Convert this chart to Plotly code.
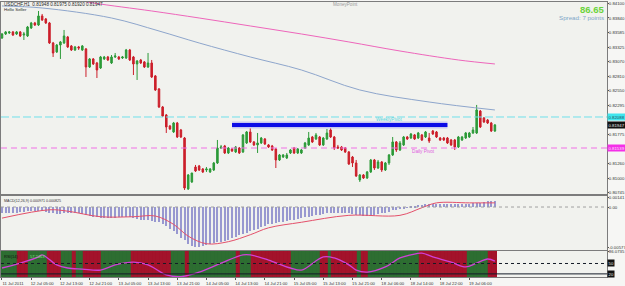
import plotly.graph_objects as go
from plotly.subplots import make_subplots

# ---------------- data (prices in points, 1 point = 0.00001) ----------------
open_pts = [83486, 83557, 83575, 83593, 83557, 83593, 83539, 83522, 83663, 83752,
            83716, 83876, 83823, 83752, 83398, 83239, 83362, 83398, 83504, 83345,
            83274, 83327, 83274, 83292, 82973, 83115, 83044, 82955, 83115, 83150,
            83044, 83150, 83150, 83132, 83132, 83274, 83150, 83026, 83097, 83062,
            82973, 83044, 82814, 82584, 82265, 82124, 81929, 81823, 81982, 81858,
            81716, 80814, 80938, 81203, 81221, 81168, 81150, 81115, 81150, 81274,
            81539, 81575, 81451, 81522, 81469, 81539, 81469, 81628, 81823, 81646,
            81593, 81628, 81699, 81593, 81575, 81522, 81327, 81380, 81362, 81451,
            81539, 81451, 81451, 81539, 81593, 81734, 81699, 81734, 81593, 81699,
            81858, 81734, 81557, 81557, 81539, 81469, 81380, 81274, 80973, 81062,
            81008, 81115, 81327, 81185, 81292, 81150, 81274, 81416, 81646, 81504,
            81593, 81734, 81716, 81770, 81716, 81770, 81734, 81716, 81840, 81823,
            81716, 81716, 81716, 81681, 81681, 81557, 81681, 81716, 81734, 81805,
            81805, 82194, 82070, 82035, 81982, 81840]
high_pts = [83575, 83610, 83610, 83610, 83610, 83610, 83593, 83699, 83770, 83770,
            83964, 83911, 83840, 83770, 83416, 83380, 83433, 83628, 83522, 83362,
            83345, 83345, 83362, 83309, 83132, 83132, 83062, 83168, 83168, 83168,
            83185, 83221, 83168, 83168, 83292, 83292, 83168, 83097, 83115, 83079,
            83221, 83097, 82831, 82601, 82283, 82141, 81947, 82000, 82000, 81876,
            81734, 81079, 81097, 81239, 81239, 81185, 81203, 81185, 81292, 81681,
            81593, 81593, 81557, 81539, 81575, 81557, 81787, 81840, 81982, 81663,
            81805, 81734, 81716, 81610, 81593, 81539, 81433, 81433, 81451, 81522,
            81557, 81539, 81522, 81646, 81823, 81752, 81805, 81752, 81734, 81876,
            81982, 81752, 81593, 81575, 81557, 81486, 81398, 81327, 81079, 81079,
            81132, 81345, 81345, 81327, 81309, 81292, 81433, 81734, 81663, 81663,
            81752, 81752, 81805, 81787, 81823, 81787, 81840, 81805, 81858, 81840,
            81734, 81734, 81734, 81699, 81699, 81752, 81752, 81823, 81823, 81911,
            82301, 82212, 82088, 82053, 82000, 81964]
low_pts = [83469, 83539, 83557, 83522, 83539, 83504, 83451, 83504, 83646, 83699,
           83699, 83787, 83734, 83380, 83150, 83221, 83115, 83380, 83309, 83256,
           83256, 83274, 83256, 82796, 82955, 83008, 82778, 82938, 83097, 83079,
           83026, 83132, 83097, 83115, 83115, 83079, 82831, 82743, 83026, 82955,
           82955, 82778, 82548, 82247, 82088, 81805, 81858, 81805, 81716, 81716,
           80796, 80796, 80920, 81115, 81132, 81097, 81115, 81097, 81132, 81256,
           81522, 81433, 81433, 81469, 81451, 81433, 81451, 81610, 81628, 81575,
           81451, 81610, 81593, 81539, 81486, 81185, 81309, 81362, 81345, 81433,
           81433, 81433, 81433, 81522, 81575, 81628, 81681, 81575, 81575, 81681,
           81716, 81504, 81522, 81486, 81451, 81239, 81203, 81026, 80938, 80991,
           80991, 81097, 81150, 81168, 81115, 81132, 81239, 81398, 81469, 81486,
           81575, 81681, 81699, 81681, 81699, 81663, 81716, 81628, 81770, 81716,
           81663, 81663, 81610, 81575, 81504, 81539, 81663, 81699, 81716, 81787,
           81787, 81893, 81982, 81964, 81823, 81823]
close_pts = [83557, 83593, 83593, 83539, 83593, 83522, 83557, 83681, 83752, 83716,
             83876, 83805, 83752, 83398, 83221, 83362, 83416, 83522, 83327, 83274,
             83327, 83309, 83345, 82973, 83115, 83026, 82920, 83150, 83150, 83097,
             83150, 83168, 83115, 83150, 83274, 83097, 83026, 83079, 83044, 82973,
             83044, 82796, 82566, 82265, 82106, 81911, 81876, 81982, 81734, 81734,
             80831, 81062, 81097, 81132, 81150, 81115, 81168, 81168, 81274, 81539,
             81557, 81451, 81539, 81486, 81557, 81451, 81770, 81823, 81646, 81593,
             81628, 81716, 81610, 81557, 81504, 81327, 81416, 81416, 81416, 81504,
             81451, 81522, 81504, 81628, 81716, 81646, 81770, 81593, 81716, 81805,
             81734, 81539, 81539, 81504, 81469, 81256, 81274, 81044, 81062, 81008,
             81115, 81327, 81185, 81292, 81150, 81274, 81416, 81646, 81504, 81628,
             81734, 81699, 81787, 81699, 81805, 81681, 81823, 81663, 81787, 81734,
             81681, 81681, 81628, 81593, 81557, 81734, 81734, 81805, 81805, 81858,
             82212, 81911, 82000, 81982, 81840, 81947]

# moving averages read at a few bars (points)
ma_slow_idx = [16, 25, 41, 54, 68, 82, 95, 109, 125, 135]
ma_slow_pts = [84212, 84106, 83964, 83840, 83699, 83557, 83416, 83256, 83097, 83026]
ma_mid_idx = [0, 11, 30, 43, 54, 68, 82, 98, 117, 135]
ma_mid_pts = [84053, 84017, 83840, 83610, 83398, 83150, 82920, 82566, 82353, 82212]

weekly_pivot_pts = 82088
daily_pivot_pts = 81539
resistance_pts = 81946
resistance_start, resistance_end = 63, 122

price_tick_pts = [84100, 83840, 83585, 83325, 83070, 82810, 82550, 82295,
                  81775, 81260, 81000, 80745]

# MACD histogram (units of 0.0001)
macd_hist = [-9, -9, -9, -8, -8, -7, -7, -6, -6, -6, -6, -6, -7,
             -8, -9, -10, -10, -9, -9, -9, -9, -9, -10,
             -12, -13, -14, -15, -16, -16, -16,
             -16, -16, -15, -15, -15, -15, -16, -17, -18, -19, -19, -20,
             -21, -22, -24, -28, -32, -35, -39, -44, -48, -53, -56, -57, -57, -56, -55, -53,
             -52, -51, -50, -49, -47, -45, -43, -41, -39, -37, -35, -33, -31, -29, -27, -25,
             -24, -23, -22, -21, -20, -19, -18, -17, -16, -15,
             -14, -13, -12, -11, -10, -9, -8, -8, -8, -8, -9, -9, -10, -11, -12, -13, -13,
             -12, -11, -10, -9, -8, -7, -5, -4, -3, -2,
             -1, 1, 2, 3, 3, 4, 4, 5, 5, 5, 5, 5, 5, 5, 5, 5, 5, 5, 6, 6, 6, 7, 8, 8, 8]
signal_idx = [0, 13, 18, 27, 36, 42, 47, 51, 56, 62, 68, 73, 82, 95, 109, 115, 119, 128, 135]
signal_val = [-16, -4, -6, -14, -14, -13, -25, -42, -53, -50, -40, -30, -22, -12, -12, -1, 6, 6, 6]
macd_ticks = [0.00141, 0.0, -0.00577]
macd_tick_text = ["0.00141", "0.00", "-0.00577"]

# oscillator panel
osc_idx = [0, 5, 10, 11, 15, 18, 22, 27, 31, 36, 40, 45, 49, 54, 60, 66, 68, 73, 79,
           82, 88, 91, 95, 97, 100, 105, 109, 112, 115, 118, 123, 127, 130, 133, 135]
osc_val = [37, 51, 69, 75, 46, 37, 34, 31, 46, 54, 46, 17, 12, 25, 51, 75, 75, 60, 37,
           31, 69, 66, 46, 31, 25, 40, 66, 75, 80, 69, 54, 40, 51, 63, 57]
band_run_states = ['G', 'R'] * 13
band_run_lengths = [5, 3, 5, 4, 3, 1, 2, 5, 8, 11, 4, 1, 13, 1, 3, 11, 8, 2, 1, 7, 1, 2, 14, 13, 6, 2]
osc_levels = [50, 20]
osc_top_value = 86.0735

time_tick_idx = list(range(0, 129, 8))
time_tick_text = ["11 Jul 2011", "12 Jul 05:00", "12 Jul 13:00", "12 Jul 21:00",
                  "13 Jul 05:00", "13 Jul 13:00", "13 Jul 21:00", "14 Jul 05:00",
                  "14 Jul 13:00", "14 Jul 21:00", "15 Jul 05:00", "15 Jul 13:00",
                  "15 Jul 21:00", "18 Jul 06:00", "18 Jul 14:00", "18 Jul 22:00",
                  "19 Jul 06:00"]

# ---------------- build ----------------
PT = 1e-5
P = lambda seq: [v * PT for v in seq]
n = len(close_pts)
idx = list(range(n))

GREEN = '#2c9a38'
RED = '#cc1f2a'
FONT = 'Liberation Sans'

fig = make_subplots(rows=3, cols=1, shared_xaxes=True, vertical_spacing=0.01)

fig.add_trace(go.Candlestick(
    x=idx, open=P(open_pts), high=P(high_pts), low=P(low_pts), close=P(close_pts),
    increasing=dict(line=dict(color=GREEN, width=1), fillcolor=GREEN),
    decreasing=dict(line=dict(color=RED, width=1), fillcolor=RED),
    whiskerwidth=0, hoverinfo='skip', showlegend=False), row=1, col=1)

fig.add_trace(go.Scatter(x=ma_slow_idx, y=P(ma_slow_pts), mode='lines',
                         line=dict(color='#ee66bb', width=1, shape='spline'),
                         hoverinfo='skip'), row=1, col=1)
fig.add_trace(go.Scatter(x=ma_mid_idx, y=P(ma_mid_pts), mode='lines',
                         line=dict(color='#8ea6cc', width=1, shape='spline'),
                         hoverinfo='skip'), row=1, col=1)

# resistance bar
fig.add_trace(go.Scatter(x=[resistance_start, resistance_end],
                         y=[resistance_pts * PT] * 2, mode='lines',
                         line=dict(color='#c8c8f0', width=7), hoverinfo='skip'), row=1, col=1)
fig.add_trace(go.Scatter(x=[resistance_start, resistance_end],
                         y=[resistance_pts * PT] * 2, mode='lines',
                         line=dict(color='#0c0ce6', width=4), hoverinfo='skip'), row=1, col=1)

fig.add_hline(y=weekly_pivot_pts * PT, line=dict(color='#6fe0ea', width=1, dash='8px,3px'), row=1, col=1)
fig.add_hline(y=daily_pivot_pts * PT, line=dict(color='#f070e6', width=1, dash='6px,4px'), row=1, col=1)

# MACD
fig.add_trace(go.Bar(x=idx, y=[v * 1e-4 for v in macd_hist], width=0.3,
                     marker=dict(color='#9898d0', line=dict(width=0)),
                     hoverinfo='skip'), row=2, col=1)
fig.add_trace(go.Scatter(x=signal_idx, y=[v * 1e-4 for v in signal_val], mode='lines',
                         line=dict(color='#e4506a', width=1, shape='spline'),
                         hoverinfo='skip'), row=2, col=1)
fig.add_hline(y=0, line=dict(color='#a0a0a0', width=1, dash='dot'), row=2, col=1)

# oscillator bands
band_colors = []
for st, ln in zip(band_run_states, band_run_lengths):
    band_colors += [('#2d6e31' if st == 'G' else '#a3132b')] * ln
fig.add_trace(go.Bar(x=idx, y=[100] * n, base=0, width=1.0,
                     marker=dict(color=band_colors, line=dict(color=band_colors, width=1.2)),
                     hoverinfo='skip'), row=3, col=1)
fig.add_hline(y=osc_levels[0], line=dict(color='#141c28', width=1, dash='dot'), row=3, col=1)
fig.add_hline(y=osc_levels[1], line=dict(color='#141c28', width=1), row=3, col=1)
fig.add_trace(go.Scatter(x=osc_idx, y=osc_val, mode='lines',
                         line=dict(color='#d040d8', width=1.3, shape='spline'),
                         hoverinfo='skip'), row=3, col=1)

# ---------------- layout ----------------
H, TOP, BOT = 286, 2, 9
plot_h = H - TOP - BOT
def dom(y0, y1):
    return [(H - BOT - y1) / plot_h, (H - BOT - y0) / plot_h]

fig.update_layout(
    template='none', width=625, height=H,
    margin=dict(l=1, r=18, t=TOP, b=BOT),
    paper_bgcolor='#f6f6f4', plot_bgcolor='#f1f2ee',
    showlegend=False, bargap=0, boxgap=0.4,
    font=dict(family=FONT, size=5, color='#333333'),
)

axis_common = dict(showgrid=False, zeroline=False, showline=True, mirror=True,
                   linecolor='#7c7c7c', linewidth=1, automargin=False)
xr = [-0.27, 165.7]
for k in (1, 2, 3):
    fig.update_xaxes(range=xr, rangeslider_visible=False, **axis_common, row=k, col=1)
fig.update_xaxes(showticklabels=False, ticks='', row=1, col=1)
fig.update_xaxes(showticklabels=False, ticks='', row=2, col=1)
fig.update_xaxes(showticklabels=True, tickmode='array', tickvals=time_tick_idx,
                 ticktext=time_tick_text, ticks='outside', ticklen=2, tickcolor='#555',
                 tickfont=dict(size=4.2, color='#333'), ticklabelshift=11, row=3, col=1)

yax_common = dict(side='right', ticks='outside', ticklen=1, tickcolor='#555',
                  ticklabelstandoff=-1,
                  tickfont=dict(size=4.3, color='#333'), **axis_common)
fig.update_yaxes(domain=dom(2, 194), range=[0.80725, 0.84123], tickmode='array',
                 tickvals=P(price_tick_pts), ticktext=['%.5f' % (v * PT) for v in price_tick_pts],
                 **yax_common, row=1, col=1)
fig.update_yaxes(domain=dom(196, 250), range=[-0.0062, 0.00159], tickmode='array',
                 tickvals=macd_ticks, ticktext=macd_tick_text, **yax_common, row=2, col=1)
fig.update_yaxes(domain=dom(251, 277), range=[11, 86.07], tickmode='array',
                 tickvals=[osc_top_value], ticktext=['%.4f' % osc_top_value],
                 **yax_common, row=3, col=1)

def px(xp):
    return (xp - 1) / 606
def py(yp):
    return (H - BOT - yp) / plot_h

ann = []
def txt(x, y, s, size, color, xanchor='left', bold=False):
    ann.append(dict(xref='paper', yref='paper', x=px(x), y=py(y), text=('<b>%s</b>' % s) if bold else s,
                    showarrow=False, xanchor=xanchor, yanchor='middle',
                    font=dict(family=FONT, size=size, color=color)))

last = close_pts[-1] * PT
txt(2, 4, 'USDCHF,H1  %.5f %.5f %.5f %.5f' % (0.81948, 0.81975, 0.81920, last), 4.6, '#2a2a2a')
txt(2, 9.5, 'Hello Seller', 4.4, '#2a2a2a')
txt(345, 4, 'MoneyPoint', 4.6, '#9a9a9a', xanchor='center')
txt(606, 10, '86.65', 9.5, '#6ad43c', xanchor='right', bold=True)
txt(606, 17, 'Spread: 7 points', 6.2, '#7fa6c8', xanchor='right')
txt(2, 201, 'MACD(12,26,9) 0.000971 0.000825', 3.6, '#333333')
txt(2, 256, 'RSI(14)', 4.0, '#101010')
txt(28, 256, '57.2463', 4.0, '#7ee07e')

# pivot labels (data coords)
ann.append(dict(xref='x', yref='y', x=106, y=weekly_pivot_pts * PT, yshift=-3, text='WeeklyPivot',
                showarrow=False, font=dict(family=FONT, size=4.7, color='#5cd6e0')))
ann.append(dict(xref='x', yref='y', x=115.5, y=daily_pivot_pts * PT, yshift=-3, text='Daily Pivot',
                showarrow=False, font=dict(family=FONT, size=4.7, color='#e060e0')))

# right-side value boxes
def box(yref, y, s, bg, fg):
    ann.append(dict(xref='paper', yref=yref, x=1, xshift=0, y=y, text=s, showarrow=False,
                    xanchor='left', yanchor='middle', bgcolor=bg, borderpad=0.5,
                    font=dict(family=FONT, size=4.3, color=fg)))
box('y', weekly_pivot_pts * PT, '%.5f' % (weekly_pivot_pts * PT), '#40e6ee', '#205060')
box('y', last, '%.5f' % last, '#111111', '#e8e8e8')
box('y', daily_pivot_pts * PT, '%.5f' % (daily_pivot_pts * PT), '#f430e8', '#fbe0fb')
box('y3', osc_levels[0], '50', '#111111', '#e8e8e8')
box('y3', osc_levels[1], '20', '#111111', '#e8e8e8')

fig.update_layout(annotations=ann)
fig.write_html('out.html')
